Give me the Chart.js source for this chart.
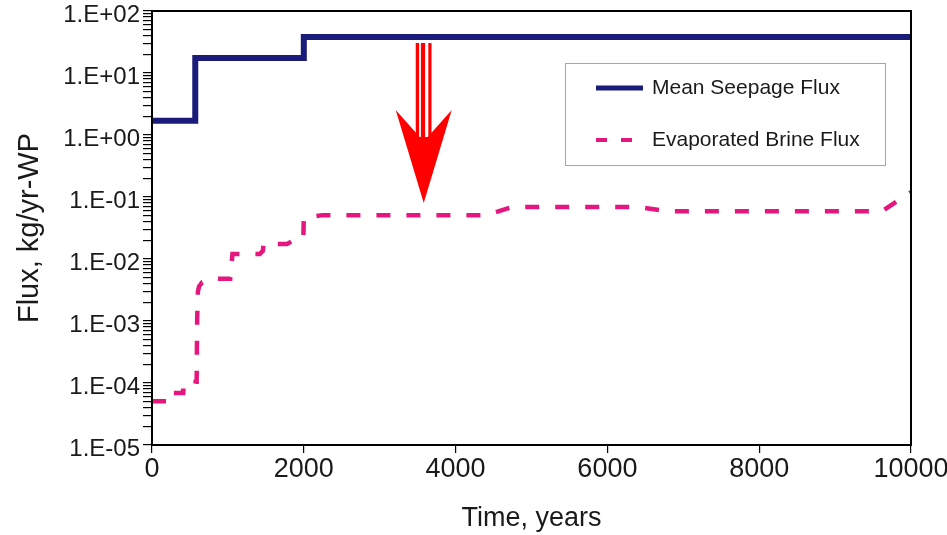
<!DOCTYPE html>
<html>
<head>
<meta charset="utf-8">
<script src="https://cdn.jsdelivr.net/npm/chart.js@4.4.0/dist/chart.umd.min.js"></script>
<style>
  html, body { margin: 0; padding: 0; background: #ffffff; }
  canvas { display: block; }
</style>
</head>
<body>
<canvas id="flux" width="947" height="535"></canvas>
<script>
// Mean seepage flux (stepped history), kg/yr-WP
const seepageTime = [0, 570, 2000, 10000];
const seepageFlux = [1.7, 17.5, 38, 38];

// Evaporated brine flux, kg/yr-WP
const brineTime = [0, 190, 190, 410, 410, 540, 545, 565, 575, 588, 595, 605, 620, 660, 780, 1030, 1060, 1420, 1460, 1470, 1780, 1910, 1990, 1995, 2000, 2250, 4400, 4750, 6400, 6780, 9620, 10000];
const brineFlux = [5.1e-5, 5.1e-5, 6.9e-5, 6.9e-5, 7.5e-5, 7.5e-5, 8.6e-5, 8.6e-5, 1.05e-4, 1.05e-4, 1.1e-3, 3.0e-3, 3.6e-3, 4.2e-3, 4.8e-3, 4.8e-3, 1.2e-2, 1.2e-2, 1.35e-2, 1.75e-2, 1.75e-2, 2.15e-2, 2.15e-2, 2.5e-2, 4.6e-2, 5.1e-2, 5.1e-2, 6.9e-2, 6.9e-2, 5.9e-2, 5.9e-2, 1.2e-1];

// Axis ticks
const timeTicks = [0, 2000, 4000, 6000, 8000, 10000];
const fluxDecades = [-5, -4, -3, -2, -1, 0, 1, 2];

// Annotation arrow position (time, flux at the tip)
const arrowTime = 3580;
const arrowTipFlux = 0.08;

const seepagePoints = seepageTime.map((t, i) => ({ x: t, y: seepageFlux[i] }));
const brinePoints = brineTime.map((t, i) => ({ x: t, y: brineFlux[i] }));

const FONT = "'Liberation Sans', Arial, Helvetica, sans-serif";

function isDecade(v) {
  const l = Math.log10(v);
  return Math.abs(l - Math.round(l)) < 1e-9;
}
function sciLabel(v) {
  const e = Math.round(Math.log10(v));
  return '1.E' + (e < 0 ? '-' : '+') + String(Math.abs(e)).padStart(2, '0');
}

// Box around the plotting area
const framePlugin = {
  id: 'frame',
  afterDatasetsDraw(chart) {
    const { ctx, chartArea: a } = chart;
    ctx.save();
    ctx.strokeStyle = '#000';
    ctx.lineWidth = 2;
    ctx.strokeRect(a.left, a.top, a.right - a.left, a.bottom - a.top);
    ctx.restore();
  }
};

// Striped red arrow pointing down at the brine flux curve
const arrowPlugin = {
  id: 'arrow',
  afterDatasetsDraw(chart) {
    const { ctx } = chart;
    const x = chart.scales.x.getPixelForValue(arrowTime);
    const y = chart.scales.y.getPixelForValue(arrowTipFlux);
    ctx.save();
    ctx.fillStyle = '#ff0000';
    const shaftTop = y - 160, shaftBottom = y - 64;
    [[-8, -4.6], [-2.8, 1.4], [4.6, 7.8]].forEach(([a, b]) => {
      ctx.fillRect(x + a, shaftTop, b - a, shaftBottom - shaftTop);
    });
    ctx.beginPath();
    ctx.moveTo(x - 28, y - 93);
    ctx.lineTo(x - 4, y - 66);
    ctx.lineTo(x + 4, y - 66);
    ctx.lineTo(x + 28, y - 93);
    ctx.lineTo(x, y);
    ctx.closePath();
    ctx.fill();
    ctx.restore();
  }
};

// Legend box inside the plot
const legendPlugin = {
  id: 'boxLegend',
  afterDraw(chart) {
    const { ctx } = chart;
    ctx.save();
    ctx.fillStyle = '#fff';
    ctx.fillRect(565, 63, 320, 102);
    ctx.strokeStyle = '#a6a6a6';
    ctx.lineWidth = 1;
    ctx.strokeRect(565.5, 63.5, 320, 102);
    const rows = [88, 140];
    chart.data.datasets.forEach((ds, i) => {
      const yy = rows[i];
      ctx.strokeStyle = ds.borderColor;
      ctx.lineWidth = i === 1 ? 4 : 5;
      ctx.lineCap = 'butt';
      ctx.setLineDash(i === 1 ? [11, 14] : []);
      ctx.beginPath();
      ctx.moveTo(596, yy);
      ctx.lineTo(i === 1 ? 632 : 643, yy);
      ctx.stroke();
      ctx.setLineDash([]);
      ctx.fillStyle = '#1a1a1a';
      ctx.font = '21px ' + FONT;
      ctx.textBaseline = 'middle';
      ctx.textAlign = 'left';
      ctx.fillText(ds.label, 652, yy);
    });
    ctx.restore();
  }
};

new Chart(document.getElementById('flux'), {
  type: 'line',
  data: {
    datasets: [
      {
        label: 'Mean Seepage Flux',
        data: seepagePoints,
        borderColor: '#1b1b7a',
        borderWidth: 6,
        stepped: true,
        pointRadius: 0,
        fill: false
      },
      {
        label: 'Evaporated Brine Flux',
        data: brinePoints,
        borderColor: '#e5177e',
        borderWidth: 4.5,
        borderDash: [14, 16],
        borderCapStyle: 'butt',
        pointRadius: 0,
        tension: 0,
        fill: false
      }
    ]
  },
  options: {
    responsive: false,
    animation: false,
    events: [],
    layout: { padding: { top: 11, right: 36, left: 0, bottom: 0 } },
    plugins: {
      legend: { display: false },
      tooltip: { enabled: false }
    },
    scales: {
      x: {
        type: 'linear',
        min: 0,
        max: 10000,
        afterBuildTicks(scale) {
          scale.ticks = timeTicks.map(v => ({ value: v }));
        },
        afterFit(scale) {
          scale.height = 90;
          scale.paddingLeft = 0;
          scale.paddingRight = 0;
        },
        border: { display: false },
        grid: { drawOnChartArea: false, drawTicks: true, tickLength: 8, color: '#000', lineWidth: 1.2 },
        ticks: {
          padding: 0,
          color: '#1a1a1a',
          font: { family: FONT, size: 27 },
          maxRotation: 0,
          autoSkip: false,
          callback: v => String(v)
        },
        title: {
          display: true,
          text: 'Time, years',
          color: '#1a1a1a',
          font: { family: FONT, size: 27 },
          padding: { top: 0, bottom: 0 }
        }
      },
      y: {
        type: 'logarithmic',
        min: 1e-5,
        max: 100,
        afterBuildTicks(scale) {
          const ticks = [];
          fluxDecades.forEach(d => {
            const mMax = d === fluxDecades[fluxDecades.length - 1] ? 1 : 9;
            for (let m = 1; m <= mMax; m++) {
              ticks.push({ value: Number((m * Math.pow(10, d)).toPrecision(3)) });
            }
          });
          scale.ticks = ticks;
        },
        afterFit(scale) {
          scale.width = 152;
          scale.paddingTop = 0;
          scale.paddingBottom = 0;
        },
        border: { display: false },
        grid: { drawOnChartArea: false, drawTicks: true, tickLength: 9, color: '#000', lineWidth: 1.2 },
        ticks: {
          padding: 3,
          labelOffset: 4,
          color: '#1a1a1a',
          font: { family: FONT, size: 24 },
          autoSkip: false,
          callback: v => (isDecade(v) ? sciLabel(v) : '')
        },
        title: {
          display: true,
          text: 'Flux, kg/yr-WP',
          color: '#1a1a1a',
          font: { family: FONT, size: 29 },
          padding: { top: 13, bottom: 0 }
        }
      }
    }
  },
  plugins: [framePlugin, arrowPlugin, legendPlugin]
});
</script>
</body>
</html>
